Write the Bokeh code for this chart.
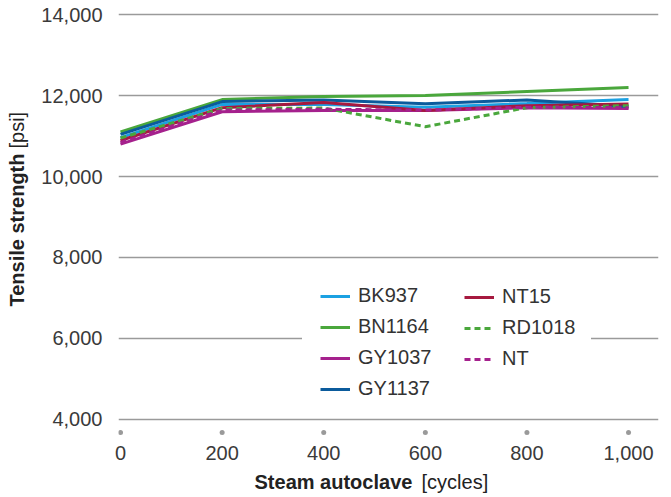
from bokeh.plotting import figure
from bokeh.models import Legend, LegendItem, Label, Range1d, FixedTicker, NumeralTickFormatter
from bokeh.embed import file_html
from bokeh.resources import INLINE

# ---- data ----
cycles = [0, 200, 400, 600, 800, 1000]
bk937 = [10960, 11780, 11780, 11710, 11800, 11900]
bn1164 = [11100, 11900, 11975, 12000, 12100, 12200]
gy1037 = [10800, 11600, 11630, 11630, 11700, 11680]
gy1137 = [11040, 11850, 11890, 11795, 11890, 11730]
nt15 = [10890, 11700, 11830, 11630, 11750, 11790]
rd1018 = [10950, 11680, 11690, 11230, 11700, 11750]
nt = [10840, 11640, 11660, 11640, 11710, 11700]
y_ticks = [4000, 6000, 8000, 10000, 12000, 14000]

series = [
    ("BK937", bk937, "#1ba1e2", "solid"),
    ("BN1164", bn1164, "#4aa73c", "solid"),
    ("GY1037", gy1037, "#a5218d", "solid"),
    ("GY1137", gy1137, "#0b5b9c", "solid"),
    ("NT15", nt15, "#a6193f", "solid"),
    ("RD1018", rd1018, "#4aa73c", "6 4"),
    ("NT", nt, "#a5218d", "6 4"),
]

FONT = "Liberation Sans"

p = figure(width=671, height=497, output_backend="svg", toolbar_location=None,
           x_range=Range1d(-4, 1059), y_range=Range1d(3580, 14099),
           min_border_left=118, min_border_right=13, min_border_top=10, min_border_bottom=61)
p.outline_line_color = None
p.background_fill_color = "white"

# axes
p.yaxis.ticker = FixedTicker(ticks=y_ticks)
p.xaxis.ticker = FixedTicker(ticks=cycles)
for ax in (p.xaxis, p.yaxis):
    ax.axis_line_color = None
    ax.major_tick_line_color = None
    ax.minor_tick_line_color = None
    ax.major_label_text_font = FONT
    ax.major_label_text_font_size = "20px"
    ax.major_label_text_color = "#3a3a3a"
    ax.formatter = NumeralTickFormatter(format="0,0")
    # the real titles are drawn as two-part labels; keep the axis panels compact
    ax.axis_label = " "
    ax.axis_label_text_font_size = "1px"
p.yaxis.axis_label_standoff = -12
p.xaxis.axis_label_standoff = -14
p.yaxis.major_label_standoff = 10
p.xaxis.major_label_standoff = 3

p.xgrid.grid_line_color = None
p.ygrid.grid_line_color = "#9a9a9a"
p.ygrid.grid_line_width = 1.5

# x tick dots
p.scatter(cycles, [3680] * len(cycles), size=5, color="#9a9a9a", line_color=None)

items = {}
for name, vals, col, dash in series:
    r = p.line(cycles, vals, line_color=col, line_width=3, line_dash=dash)
    items[name] = r

leg_common = dict(background_fill_color="white", background_fill_alpha=1.0,
                  border_line_color="white", border_line_width=1,
                  label_text_font=FONT, label_text_font_size="20px", label_text_color="#333333",
                  glyph_width=30, glyph_height=20, label_height=20, label_standoff=8,
                  spacing=8, margin=0)

leg1 = Legend(items=[LegendItem(label=n, renderers=[items[n]]) for n in ["BK937", "BN1164", "GY1037", "GY1137"]],
              location=(184, 18), padding=17, **leg_common)
leg2 = Legend(items=[LegendItem(label=n, renderers=[items[n]]) for n in ["NT15", "RD1018", "NT"]],
              location=(330, 50), padding=15, **leg_common)
p.add_layout(leg1, "center")
p.add_layout(leg2, "center")

# pixel -> data helpers (frame: left 118, x=0 at 120, 0.508 px/unit; y=4000 at 419, 0.0405 px/unit)
def dx(px):
    return (px - 120) / 0.5080

def dy(py):
    return 4000 + (419 - py) / 0.0405

title_style = dict(text_font=FONT, text_font_size="20px", text_color="#222222",
                   text_baseline="alphabetic", text_align="left")
# axis titles (bold + regular parts), placed in the side panels
p.add_layout(Label(x=dx(254), y=dy(482), text="Steam autoclave", text_font_style="bold",
                   **title_style), "below")
p.add_layout(Label(x=dx(421), y=dy(482), text="[cycles]", **title_style), "below")
p.add_layout(Label(x=dx(16), y=dy(306), text="Tensile strength", text_font_style="bold",
                   angle=1.5708, **title_style), "left")
p.add_layout(Label(x=dx(16), y=dy(148), text="[psi]", angle=1.5708, **title_style), "left")

open("out.html", "w").write(file_html(p, INLINE))
